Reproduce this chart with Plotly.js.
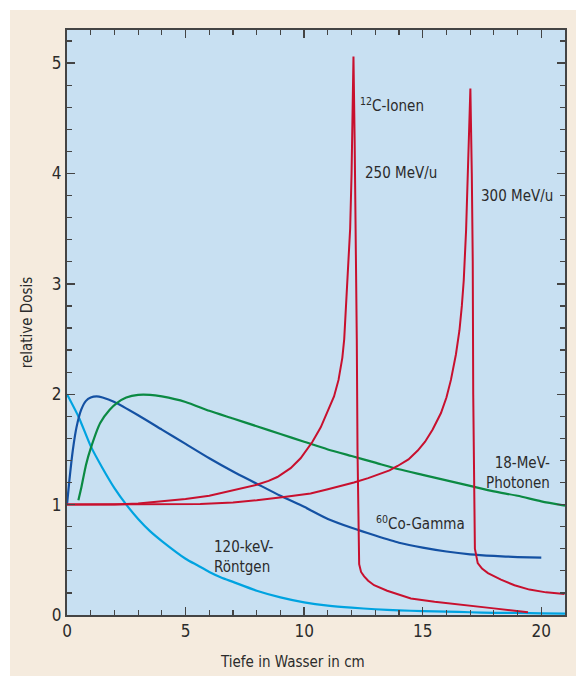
<!DOCTYPE html>
<html>
<head>
<meta charset="utf-8">
<script src="https://cdn.plot.ly/plotly-3.0.1.min.js"></script>
<style>
html,body{margin:0;padding:0;background:#ffffff;}
#chart{position:absolute;left:10px;top:10px;width:566px;height:666px;}
</style>
</head>
<body>
<div id="chart"></div>
<script>
// 120-keV Röntgen
const xrayDepth = [0, 0.5, 1, 1.5, 2, 2.5, 3, 3.5, 4, 5, 5.5, 6, 6.5, 7, 8, 9, 10, 11, 12, 13, 14, 15, 16, 17, 18, 19, 20, 21];
const xrayDose  = [2.0, 1.79, 1.53, 1.33, 1.15, 1.0, 0.87, 0.76, 0.67, 0.51, 0.45, 0.39, 0.34, 0.30, 0.22, 0.16, 0.115, 0.085, 0.066, 0.052, 0.042, 0.035, 0.03, 0.025, 0.02, 0.018, 0.015, 0.012];

// 60Co-Gamma
const coDepth = [0, 0.1, 0.25, 0.4, 0.6, 0.8, 1.0, 1.25, 1.5, 2, 3, 4, 5, 6, 7, 8, 9, 10, 11, 12, 13, 14, 15, 16, 17, 18, 19, 20];
const coDose  = [1.0, 1.22, 1.50, 1.70, 1.86, 1.94, 1.97, 1.98, 1.97, 1.93, 1.81, 1.68, 1.55, 1.42, 1.30, 1.19, 1.08, 0.98, 0.87, 0.79, 0.72, 0.655, 0.61, 0.575, 0.55, 0.535, 0.525, 0.52];

// 18-MeV-Photonen
const phDepth = [0.48, 0.6, 0.8, 1.0, 1.4, 1.8, 2.1, 2.5, 3, 3.5, 4, 5, 6, 7, 8, 9, 10, 11, 12, 13, 14, 15, 16, 17, 18, 19, 20, 21];
const phDose  = [1.04, 1.15, 1.36, 1.51, 1.74, 1.86, 1.92, 1.97, 1.995, 1.995, 1.98, 1.93, 1.85, 1.78, 1.71, 1.64, 1.57, 1.50, 1.44, 1.38, 1.32, 1.27, 1.22, 1.17, 1.12, 1.08, 1.03, 0.99];

// 12C-Ionen 250 MeV/u
const c250Depth = [0, 1, 2, 3, 4, 5, 6, 7, 8, 8.5, 8.87, 9.15, 9.43, 9.85, 10.1, 10.35, 10.7, 11.0, 11.26, 11.45, 11.61, 11.69, 11.76, 11.85, 11.94, 12.0, 12.08, 12.13, 12.18, 12.22, 12.25, 12.28, 12.32, 12.4, 12.53, 12.7, 12.95, 13.5, 14.5, 15.5, 16.9, 18.0, 19.44];
const c250Dose  = [1.0, 1.0, 1.0, 1.01, 1.03, 1.05, 1.08, 1.13, 1.18, 1.215, 1.25, 1.29, 1.33, 1.42, 1.49, 1.57, 1.70, 1.85, 1.98, 2.13, 2.33, 2.5, 2.76, 3.15, 3.5, 4.0, 5.06, 4.3, 3.55, 2.5, 1.5, 0.8, 0.46, 0.39, 0.35, 0.31, 0.27, 0.22, 0.15, 0.12, 0.09, 0.06, 0.025];

// 12C-Ionen 300 MeV/u
const c300Depth = [0, 2, 4, 5.62, 7, 8, 9.15, 10.27, 11, 12.1, 12.7, 13.23, 13.6, 13.94, 14.4, 14.79, 15.1, 15.42, 15.77, 16.0, 16.19, 16.4, 16.55, 16.65, 16.73, 16.83, 16.92, 17.01, 17.07, 17.11, 17.13, 17.16, 17.2, 17.32, 17.5, 17.75, 18.3, 18.87, 19.5, 20.2, 20.98];
const c300Dose  = [1.0, 1.0, 1.0, 1.005, 1.02, 1.04, 1.07, 1.10, 1.14, 1.20, 1.24, 1.28, 1.31, 1.35, 1.41, 1.49, 1.57, 1.68, 1.83, 1.97, 2.13, 2.36, 2.58, 2.8, 3.03, 3.49, 4.1, 4.77, 4.0, 3.2, 2.0, 1.0, 0.6, 0.47, 0.42, 0.38, 0.32, 0.27, 0.23, 0.205, 0.19];

const curveColors = {red: '#c8102e', blue: '#1451a3', cyan: '#00a3e0', green: '#0b8a43'};
const fontFam = '"Liberation Sans Narrow", "DejaVu Sans Condensed", "Open Sans", sans-serif';

const traces = [
  {x: xrayDepth, y: xrayDose, mode: 'lines', line: {color: curveColors.cyan, width: 2.2, shape: 'spline', smoothing: 0.6}},
  {x: coDepth, y: coDose, mode: 'lines', line: {color: curveColors.blue, width: 2.2, shape: 'spline', smoothing: 0.6}},
  {x: phDepth, y: phDose, mode: 'lines', line: {color: curveColors.green, width: 2.2, shape: 'spline', smoothing: 0.6}},
  {x: c250Depth, y: c250Dose, mode: 'lines', line: {color: curveColors.red, width: 2}},
  {x: c300Depth, y: c300Dose, mode: 'lines', line: {color: curveColors.red, width: 2}}
];

const txt = '#2b2b2b';
const annFont = {family: fontFam, size: 15, color: txt};
const layout = {
  width: 566, height: 666,
  margin: {l: 57, r: 11, t: 20, b: 61},
  paper_bgcolor: '#f5ebde',
  plot_bgcolor: '#c8e0f2',
  showlegend: false,
  font: {family: fontFam, size: 16, color: txt},
  xaxis: {
    range: [0, 21], dtick: 5, tick0: 0,
    ticks: 'inside', ticklen: 8, tickwidth: 1.5, tickcolor: '#444',
    minor: {dtick: 1, ticks: 'inside', ticklen: 5, tickwidth: 1.2, tickcolor: '#444', showgrid: false},
    showline: true, linecolor: '#444', linewidth: 2, mirror: 'ticks',
    showgrid: false, zeroline: false,
    tickfont: {family: fontFam, size: 17, color: txt}
  },
  yaxis: {
    range: [0, 5.3], dtick: 1, tick0: 0,
    ticks: 'inside', ticklen: 8, tickwidth: 1.5, tickcolor: '#444',
    minor: {dtick: 0.2, ticks: 'inside', ticklen: 5, tickwidth: 1.2, tickcolor: '#444', showgrid: false},
    showline: true, linecolor: '#444', linewidth: 2, mirror: 'ticks',
    showgrid: false, zeroline: false,
    tickfont: {family: fontFam, size: 17, color: txt},
    title: {text: 'relative Dosis', font: {family: fontFam, size: 15, color: txt}, standoff: 16}
  },
  annotations: [
    {x: 12.26, y: 4.62, text: '<sup>12</sup>C-Ionen', xanchor: 'left', yanchor: 'middle', showarrow: false, font: annFont},
    {x: 12.47, y: 4.0, text: '250 MeV/u', xanchor: 'left', yanchor: 'middle', showarrow: false, font: annFont},
    {x: 17.38, y: 3.80, text: '300 MeV/u', xanchor: 'left', yanchor: 'middle', showarrow: false, font: annFont},
    {x: 20.47, y: 1.29, text: '18-MeV-<br>Photonen', xanchor: 'right', yanchor: 'middle', align: 'right', showarrow: false, font: annFont},
    {x: 12.94, y: 0.83, text: '<sup>60</sup>Co-Gamma', xanchor: 'left', yanchor: 'middle', showarrow: false, font: annFont},
    {x: 7.48, y: 0.53, text: '120-keV-<br>Röntgen', xanchor: 'center', yanchor: 'middle', align: 'left', showarrow: false, font: annFont},
    {xref: 'paper', yref: 'paper', x: 0.452, y: -0.08, text: 'Tiefe in Wasser in cm', xanchor: 'center', yanchor: 'middle', showarrow: false, font: {family: fontFam, size: 15, color: txt}}
  ]
};

Plotly.newPlot('chart', traces, layout, {displayModeBar: false, staticPlot: true});
</script>
</body>
</html>
